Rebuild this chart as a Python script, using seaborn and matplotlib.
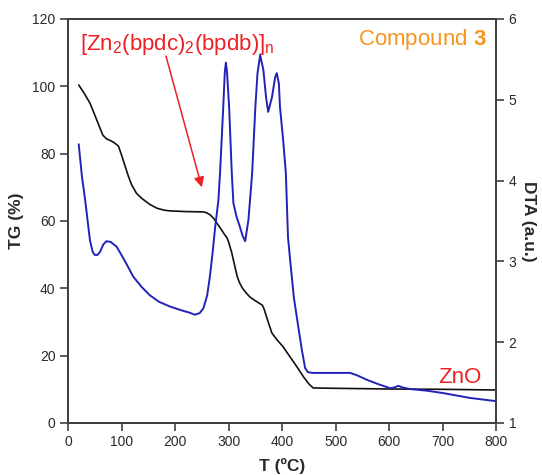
import matplotlib
matplotlib.use("Agg")
import matplotlib.pyplot as plt
import seaborn as sns
import pandas as pd

# Thermogravimetric curve (TG, %)
tg_temp = [20, 30, 41, 53, 65, 72, 79, 85, 94, 100, 107, 113, 119, 128, 138, 152, 166,
           180, 191, 220, 252, 258, 265, 272, 278, 285, 292, 297, 300, 306, 312, 316, 320,
           326, 333, 340, 350, 358, 363, 366, 370, 375, 381, 390, 402, 415, 428, 440, 450,
           458, 500, 600, 700, 800]
tg_mass = [100.4, 98.0, 95.0, 90.3, 85.5, 84.4, 83.9, 83.4, 82.3, 79.6, 76.1, 73.2, 70.7,
           68.2, 66.7, 65.0, 63.8, 63.2, 63.0, 62.8, 62.7, 62.5, 61.9, 60.8, 59.4, 57.8,
           56.1, 55.0, 53.8, 50.5, 46.3, 43.6, 41.8, 40.0, 38.6, 37.4, 36.3, 35.5, 35.0,
           34.0, 32.0, 29.5, 26.7, 24.8, 22.6, 19.6, 16.6, 13.7, 11.6, 10.4, 10.3, 10.1,
           10.0, 9.8]

# Differential thermal analysis curve (DTA, a.u.)
dta_temp = [20, 26, 32, 41, 46, 50, 55, 60, 66, 72, 80, 91, 105, 122, 138, 153, 170, 191,
            214, 225, 237, 246, 253, 260, 265, 270, 275, 281, 284, 290, 293, 295, 297, 301,
            306, 309, 315, 321, 326, 331, 337, 342, 344, 350, 354, 359, 365, 370, 374, 381,
            387, 390, 394, 396, 402, 407, 411, 416, 422, 430, 437, 443, 448, 456, 490, 527,
            540, 560, 580, 602, 610, 617, 625, 639, 670, 701, 751, 800]
dta_signal = [4.45, 4.05, 3.76, 3.26, 3.12, 3.08, 3.08, 3.12, 3.21, 3.25, 3.24, 3.18, 3.02,
              2.81, 2.68, 2.58, 2.50, 2.44, 2.39, 2.37, 2.34, 2.36, 2.42, 2.58, 2.81, 3.10,
              3.43, 3.76, 4.09, 4.91, 5.35, 5.46, 5.35, 4.91, 4.09, 3.72, 3.55, 3.43, 3.32,
              3.25, 3.51, 3.92, 4.09, 4.91, 5.33, 5.55, 5.37, 5.03, 4.85, 5.03, 5.28, 5.33,
              5.20, 4.91, 4.50, 4.09, 3.30, 2.95, 2.55, 2.20, 1.90, 1.68, 1.63, 1.62, 1.62,
              1.62, 1.59, 1.53, 1.48, 1.43, 1.44, 1.46, 1.44, 1.42, 1.40, 1.37, 1.31, 1.27]

x_ticks = [0, 100, 200, 300, 400, 500, 600, 700, 800]
tg_ticks = [0, 20, 40, 60, 80, 100, 120]
dta_ticks = [1, 2, 3, 4, 5, 6]

tg_df = pd.DataFrame({"T": tg_temp, "TG": tg_mass})
dta_df = pd.DataFrame({"T": dta_temp, "DTA": dta_signal})

sns.set_theme(style="ticks")
plt.rcParams["font.family"] = ["Liberation Sans", "DejaVu Sans"]
plt.rcParams["mathtext.fontset"] = "custom"
plt.rcParams["mathtext.rm"] = "Liberation Sans"
plt.rcParams["mathtext.bf"] = "Liberation Sans:bold"
plt.rcParams["mathtext.it"] = "Liberation Sans:italic"

spine_color = "#404040"
text_color = "#2a2a2a"

fig = plt.figure(figsize=(5.42, 4.75), dpi=100)
ax = fig.add_axes([0.1255, 0.1095, 0.79, 0.8505])
ax2 = ax.twinx()

sns.lineplot(data=tg_df, x="T", y="TG", ax=ax, color="#111111", linewidth=1.2,
             sort=False, estimator=None)
sns.lineplot(data=dta_df, x="T", y="DTA", ax=ax2, color="#2222b8", linewidth=1.4,
             sort=False, estimator=None)

ax.set_xlim(0, 800)
ax.set_ylim(0, 120)
ax2.set_ylim(1, 6)
ax.set_xticks(x_ticks)
ax.set_yticks(tg_ticks)
ax2.set_yticks(dta_ticks)

for a in (ax, ax2):
    for s in a.spines.values():
        s.set_visible(True)
        s.set_color(spine_color)
        s.set_linewidth(1.4)
    a.tick_params(direction="out", length=6, width=1.2, color=spine_color,
                  labelsize=10, labelcolor=text_color, pad=3)

ax.set_xlabel("T (ºC)", fontsize=12.5, fontweight="bold", color=text_color, labelpad=6)
ax.set_ylabel("TG (%)", fontsize=12.5, fontweight="bold", color=text_color, labelpad=6)
ax2.set_ylabel("DTA (a.u.)", fontsize=12.5, fontweight="bold", color=text_color,
               rotation=270, labelpad=14)

ax.text(22, 110.8, r"[Zn$\mathregular{_2}$(bpdc)$\mathregular{_2}$(bpdb)]$\mathregular{_n}$",
        color="#ee2024", fontsize=16, ha="left", va="baseline")
ax.annotate("", xy=(250, 70), xytext=(183, 109),
            arrowprops=dict(arrowstyle="-|>", color="#ee2024", lw=1.1,
                            mutation_scale=15, shrinkA=0, shrinkB=0))
ax.text(783, 112.3, r"Compound $\mathbf{3}$", color="#f7941d", fontsize=16,
        ha="right", va="baseline")
ax.text(772, 11.9, "ZnO", color="#ee2024", fontsize=16, ha="right", va="baseline")

fig.savefig("out.png", dpi=100)
